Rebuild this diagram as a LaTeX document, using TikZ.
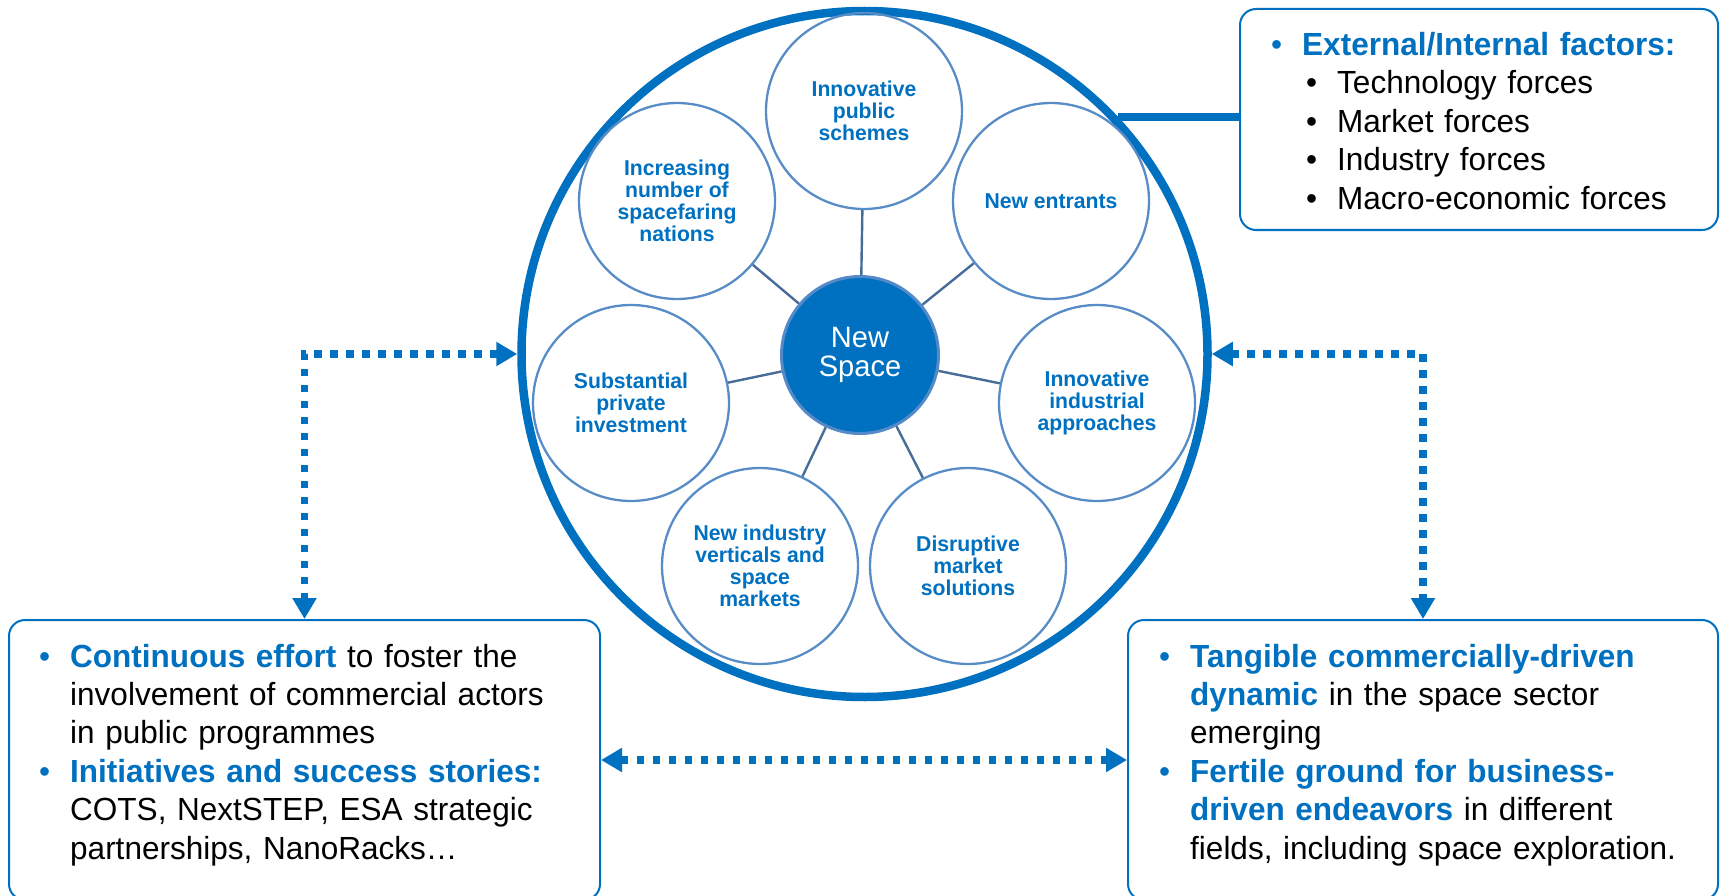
\documentclass[tikz,border=0pt]{standalone}
\usepackage{fontspec}
\setmainfont{Liberation Sans}[FakeStretch=0.985]
\usetikzlibrary{arrows.meta}

\definecolor{nsblue}{RGB}{0,112,192}
\definecolor{petalc}{RGB}{88,140,198}
\definecolor{spokec}{RGB}{72,108,152}
\definecolor{hubedge}{RGB}{84,138,200}

\newcommand{\hl}[1]{\textcolor{nsblue}{\bfseries #1}}
\newcommand{\bl}{\leavevmode\llap{\textcolor{nsblue}{\textbullet}\hspace{20pt}}}
\newcommand{\sbl}{\hspace*{35pt}\llap{\textbullet\hspace{20pt}}}

\begin{document}
\begin{tikzpicture}[x=1pt,y=-1pt,
    ring/.style={circle,draw=nsblue,line width=8.5pt,minimum size=686pt,inner sep=0pt},
    topic/.style={circle,draw=petalc,line width=2.3pt,minimum size=196pt,inner sep=0pt,
        align=center,text=nsblue,font=\fontsize{21.5}{22}\selectfont\bfseries},
    hub/.style={circle,fill=nsblue,draw=hubedge,line width=3pt,minimum size=157pt,inner sep=0pt,
        align=center,text=white,font=\fontsize{29.5}{29.6}\selectfont},
    spoke/.style={draw=spokec,line width=2.4pt},
    panel/.style={draw=nsblue,line width=2pt,rounded corners=16pt,inner sep=0pt},
    listtxt/.style={anchor=base west,inner sep=0pt,text width=560pt,align=left,
        font=\fontsize{32}{38.4}\selectfont},
    tie/.style={draw=nsblue,line width=8pt},
    flow/.style={draw=nsblue,line width=7.3pt,dash pattern=on 7.3pt off 8.7pt,
        {Triangle[length=21pt,width=23pt]}-{Triangle[length=21pt,width=23pt]}}]
    \useasboundingbox (0,0) rectangle (1721,896);

    \node[ring] (ring) at (864.5,354) {};

    \node[topic] (pub) at (864,111) {Innovative\\public\\schemes};
    \node[topic] (incr) at (677,201) {Increasing\\number of\\spacefaring\\nations};
    \node[topic] (entr) at (1051,201) {New entrants};
    \node[topic] (subst) at (631,403) {Substantial\\private\\investment};
    \node[topic] (indus) at (1097,403) {Innovative\\industrial\\approaches};
    \node[topic] (vert) at (760,566) {New industry\\verticals and\\space\\markets};
    \node[topic] (disr) at (968,566) {Disruptive\\market\\solutions};

    \node[hub] (hub) at (860,355) {New\\Space};

    \draw[spoke] (hub)--(pub);
    \draw[spoke] (hub)--(incr);
    \draw[spoke] (hub)--(entr);
    \draw[spoke] (hub)--(subst);
    \draw[spoke] (hub)--(indus);
    \draw[spoke] (hub)--(vert);
    \draw[spoke] (hub)--(disr);

    \node[panel,minimum width=478pt,minimum height=221pt] (factorbox) at (1479,119.5) {};
    \node[panel,minimum width=591pt,minimum height=280pt] (effortbox) at (304.5,760) {};
    \node[panel,minimum width=590pt,minimum height=280pt] (dynbox) at (1423,760) {};

    \node[listtxt] (factortxt) at (1302,55.5) {\bl\hl{External/Internal factors:}\\
        \sbl Technology forces\\
        \sbl Market forces\\
        \sbl Industry forces\\
        \sbl Macro-economic forces};
    \node[listtxt] (efforttxt) at (70,667) {\bl\hl{Continuous effort} to foster the\\
        involvement of commercial actors\\
        in public programmes\\
        \bl\hl{Initiatives and success stories:}\\
        COTS, NextSTEP, ESA strategic\\
        partnerships, NanoRacks…};
    \node[listtxt] (dyntxt) at (1190,667) {\bl\hl{Tangible commercially-driven}\\
        \hl{dynamic} in the space sector\\
        emerging\\
        \bl\hl{Fertile ground for business-}\\
        \hl{driven endeavors} in different\\
        fields, including space exploration.};

    \draw[tie] (ring.43) -- (ring.43 -| factorbox.west);
    \draw[flow] (ring.west) -| (effortbox.north);
    \draw[flow] (ring.east) -| (dynbox.north);
    \draw[flow] (effortbox.east) -- (dynbox.west);
\end{tikzpicture}
\end{document}
